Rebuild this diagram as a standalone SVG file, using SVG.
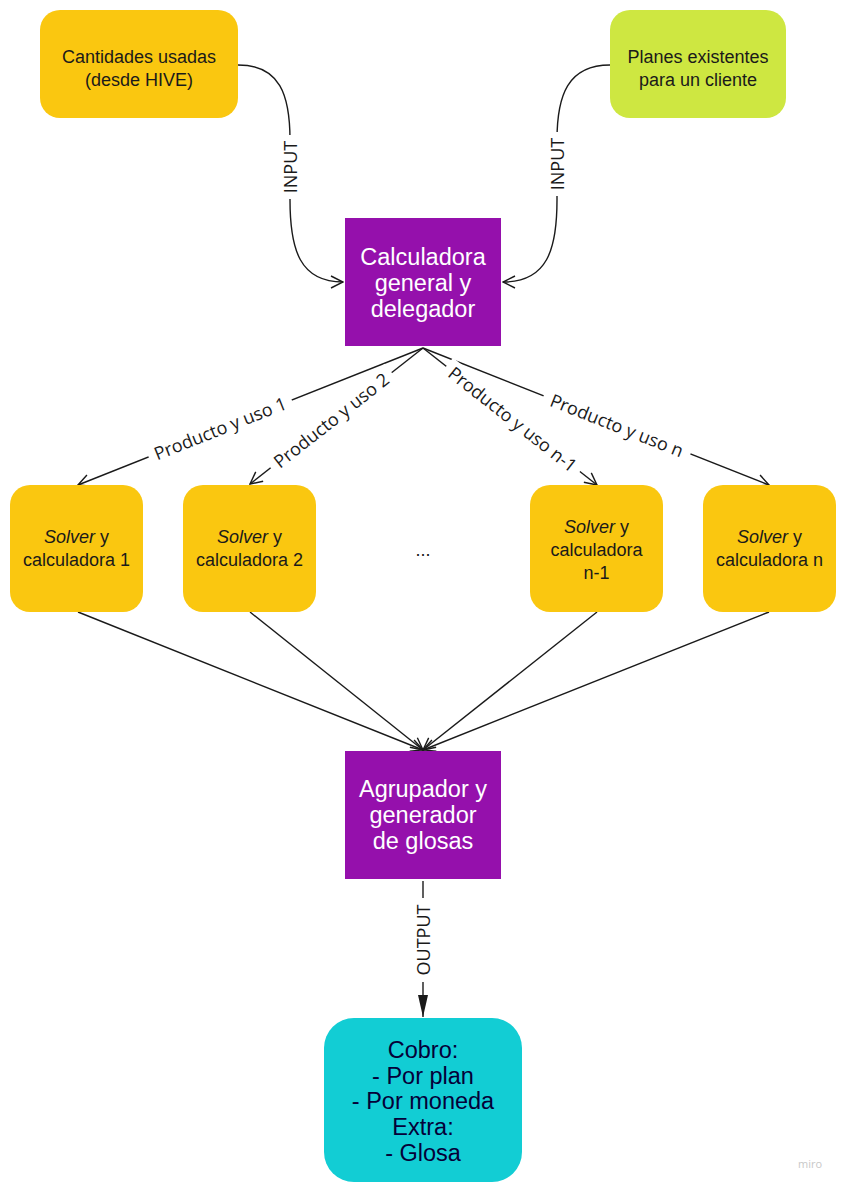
<svg xmlns="http://www.w3.org/2000/svg" width="842" height="1187" viewBox="0 0 842 1187">
<defs>
<style>
.nt{font-family:"Liberation Sans",Arial,sans-serif;font-size:18px;fill:#1a1a1a;text-anchor:middle}
.wt{font-family:"Liberation Sans",Arial,sans-serif;font-size:23.5px;fill:#ffffff;text-anchor:middle}
.ct{font-family:"Liberation Sans",Arial,sans-serif;font-size:23.5px;fill:#050038;text-anchor:middle}
.lb{font-family:"Open Sans",sans-serif;font-size:18px;fill:#1a1a1a;text-anchor:middle;dominant-baseline:central}
.cn{fill:none;stroke:#1a1a1a;stroke-width:1.4}
.bg{fill:#ffffff}
</style>
<marker id="op" viewBox="0 0 14 14" refX="13" refY="7" markerWidth="14" markerHeight="14" markerUnits="userSpaceOnUse" orient="auto">
<path d="M1,1 L13,7 L1,13" fill="none" stroke="#1a1a1a" stroke-width="1.4"/>
</marker>
<marker id="fl" viewBox="0 0 22 12" refX="22" refY="6" markerWidth="22" markerHeight="12" markerUnits="userSpaceOnUse" orient="auto">
<path d="M0,1 L22,6 L0,11 Z" fill="#1a1a1a"/>
</marker>
</defs>
<rect width="842" height="1187" fill="#ffffff"/>
<g id="connectors">
<path class="cn" d="M238,65 C280,65 290,95 290,140 L290,200 C290,250 300,282 343,282" marker-end="url(#op)"/>
<path class="cn" d="M610,65 C568,65 557,95 557,140 L557,200 C557,250 547,282 503,282" marker-end="url(#op)"/>
<line class="cn" x1="423" y1="348" x2="78" y2="485" marker-end="url(#op)"/>
<line class="cn" x1="423" y1="348" x2="250" y2="484" marker-end="url(#op)"/>
<line class="cn" x1="423" y1="348" x2="597" y2="485" marker-end="url(#op)"/>
<line class="cn" x1="423" y1="348" x2="769" y2="485" marker-end="url(#op)"/>
<line class="cn" x1="78" y1="612" x2="423" y2="750" marker-end="url(#op)"/>
<line class="cn" x1="250" y1="612" x2="423" y2="750" marker-end="url(#op)"/>
<line class="cn" x1="597" y1="612" x2="423" y2="750" marker-end="url(#op)"/>
<line class="cn" x1="769" y1="612" x2="423" y2="750" marker-end="url(#op)"/>
<line class="cn" x1="423" y1="881" x2="423" y2="1017" marker-end="url(#fl)"/>
<g transform="translate(290,167) rotate(-90)"><rect class="bg" x="-32" y="-11" width="64" height="22"/><text class="lb" x="0" y="0">INPUT</text></g>
<g transform="translate(557,164) rotate(-90)"><rect class="bg" x="-32" y="-11" width="64" height="22"/><text class="lb" x="0" y="0">INPUT</text></g>
<g transform="translate(423,940) rotate(-90)"><rect class="bg" x="-42" y="-11" width="84" height="22"/><text class="lb" x="0" y="0">OUTPUT</text></g>
<g transform="translate(220,428) rotate(-21.7)"><rect class="bg" x="-77" y="-11" width="154" height="22"/><text class="lb" x="0" y="0">Producto y uso 1</text></g>
<g transform="translate(331,420) rotate(-38.2)"><rect class="bg" x="-77" y="-11" width="154" height="22"/><text class="lb" x="0" y="0">Producto y uso 2</text></g>
<g transform="translate(513,419) rotate(38.2)"><rect class="bg" x="-85" y="-11" width="170" height="22"/><text class="lb" x="0" y="0">Producto y uso n-1</text></g>
<g transform="translate(617,425) rotate(21.6)"><rect class="bg" x="-79" y="-11" width="158" height="22"/><text class="lb" x="0" y="0">Producto y uso n</text></g>
</g>
<g id="cantidades">
<rect x="40" y="10" width="198" height="108" rx="20" fill="#FAC710"/>
<text class="nt" x="139" y="63">Cantidades usadas</text>
<text class="nt" x="139" y="86">(desde HIVE)</text>
</g>
<g id="planes">
<rect x="610" y="10" width="176" height="108" rx="20" fill="#CEE741"/>
<text class="nt" x="698" y="63">Planes existentes</text>
<text class="nt" x="698" y="86">para un cliente</text>
</g>
<g id="calculadora">
<rect x="345" y="218" width="156" height="128" fill="#9510AC"/>
<text class="wt" x="423" y="265">Calculadora</text>
<text class="wt" x="423" y="291">general y</text>
<text class="wt" x="423" y="317">delegador</text>
</g>
<g id="solver1">
<rect x="10" y="485" width="133" height="127" rx="20" fill="#FAC710"/>
<text class="nt" x="76.5" y="543"><tspan font-style="italic">Solver</tspan> y</text>
<text class="nt" x="76.5" y="566">calculadora 1</text>
</g>
<g id="solver2">
<rect x="183" y="485" width="133" height="127" rx="20" fill="#FAC710"/>
<text class="nt" x="249.5" y="543"><tspan font-style="italic">Solver</tspan> y</text>
<text class="nt" x="249.5" y="566">calculadora 2</text>
</g>
<g id="dots">
<text class="nt" x="423" y="556">...</text>
</g>
<g id="solvern1">
<rect x="530" y="485" width="133" height="127" rx="20" fill="#FAC710"/>
<text class="nt" x="596.5" y="533"><tspan font-style="italic">Solver</tspan> y</text>
<text class="nt" x="596.5" y="556">calculadora</text>
<text class="nt" x="596.5" y="579">n-1</text>
</g>
<g id="solvern">
<rect x="703" y="485" width="133" height="127" rx="20" fill="#FAC710"/>
<text class="nt" x="769.5" y="543"><tspan font-style="italic">Solver</tspan> y</text>
<text class="nt" x="769.5" y="566">calculadora n</text>
</g>
<g id="agrupador">
<rect x="345" y="751" width="156" height="128" fill="#9510AC"/>
<text class="wt" x="423" y="797">Agrupador y</text>
<text class="wt" x="423" y="823">generador</text>
<text class="wt" x="423" y="849">de glosas</text>
</g>
<g id="cobro">
<rect x="324" y="1018" width="198" height="164" rx="30" fill="#12CDD4"/>
<text class="ct" x="423" y="1058">Cobro:</text>
<text class="ct" x="423" y="1084">- Por plan</text>
<text class="ct" x="423" y="1109">- Por moneda</text>
<text class="ct" x="423" y="1135">Extra:</text>
<text class="ct" x="423" y="1161">- Glosa</text>
</g>
<text x="810" y="1168" font-family="'Open Sans',sans-serif" font-size="11" fill="#c8c8c8" text-anchor="middle">miro</text>
</svg>
